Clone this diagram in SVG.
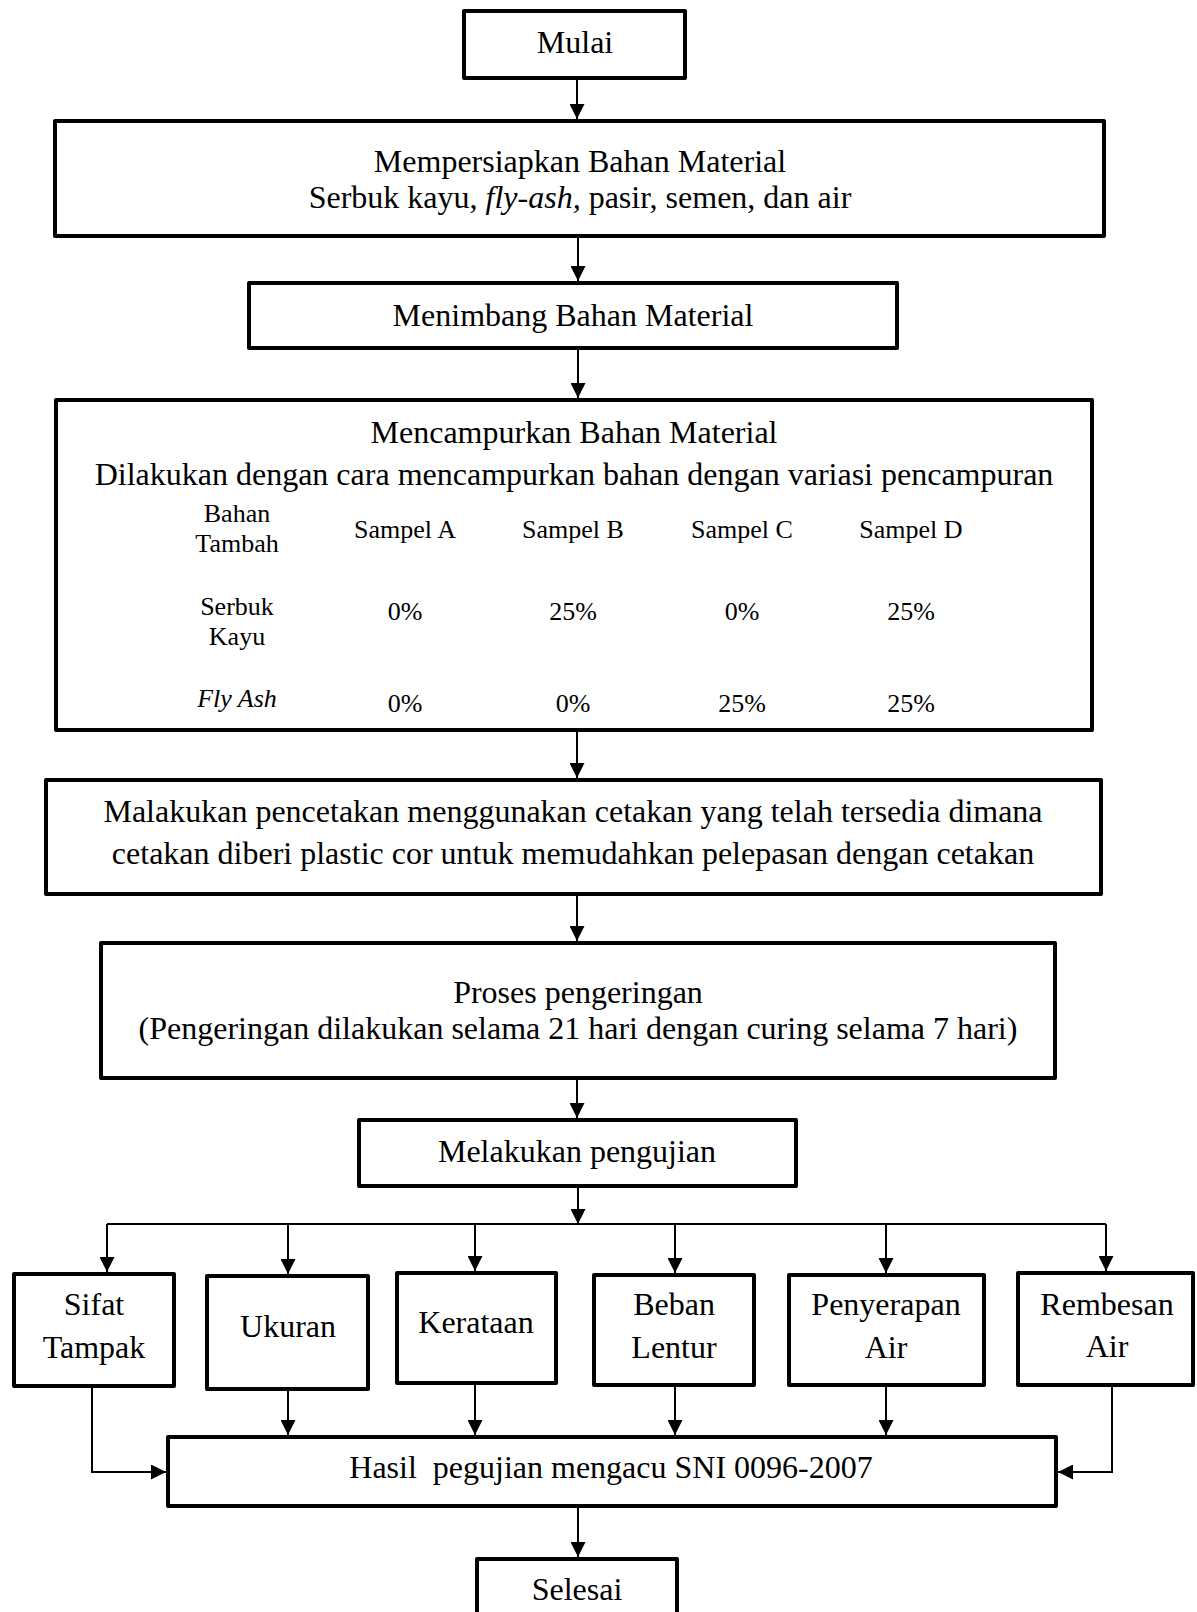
<svg xmlns="http://www.w3.org/2000/svg" width="1197" height="1612" viewBox="0 0 1197 1612">
<style>
.box{fill:#fff;stroke:#000;stroke-width:4;stroke-linejoin:round}
.t{font-family:"Liberation Serif","Times New Roman",serif;font-size:32px;fill:#000;text-anchor:middle}
.s{font-family:"Liberation Serif","Times New Roman",serif;font-size:26px;fill:#000;text-anchor:middle}
.c{fill:none;stroke:#000;stroke-width:2}
</style>
<defs>
<marker id="ah" markerUnits="userSpaceOnUse" markerWidth="15" markerHeight="15" refX="15" refY="7.5" orient="auto">
<path d="M0,0 L15,7.5 L0,15 z" fill="#000"/>
</marker>
</defs>
<rect width="1197" height="1612" fill="#fff"/>
<g id="connectors">
<path class="c" marker-end="url(#ah)" d="M577,80 V119"/>
<path class="c" marker-end="url(#ah)" d="M578,238 V281"/>
<path class="c" marker-end="url(#ah)" d="M578,350 V398"/>
<path class="c" marker-end="url(#ah)" d="M577,732 V778"/>
<path class="c" marker-end="url(#ah)" d="M577,896 V941"/>
<path class="c" marker-end="url(#ah)" d="M577,1080 V1118"/>
<path class="c" marker-end="url(#ah)" d="M578,1188 V1224"/>
<path class="c" d="M107,1224 H1106"/>
<path class="c" marker-end="url(#ah)" d="M107,1224 V1272"/>
<path class="c" marker-end="url(#ah)" d="M288,1224 V1274"/>
<path class="c" marker-end="url(#ah)" d="M475,1224 V1271"/>
<path class="c" marker-end="url(#ah)" d="M675,1224 V1273"/>
<path class="c" marker-end="url(#ah)" d="M886,1224 V1273"/>
<path class="c" marker-end="url(#ah)" d="M1106,1224 V1271"/>
<path class="c" marker-end="url(#ah)" d="M288,1391 V1435"/>
<path class="c" marker-end="url(#ah)" d="M475,1385 V1435"/>
<path class="c" marker-end="url(#ah)" d="M675,1387 V1435"/>
<path class="c" marker-end="url(#ah)" d="M886,1387 V1435"/>
<path class="c" marker-end="url(#ah)" d="M92,1388 V1472 H166"/>
<path class="c" marker-end="url(#ah)" d="M1112,1387 V1472 H1058"/>
<path class="c" marker-end="url(#ah)" d="M578,1508 V1557"/>
</g>
<g id="mulai">
<rect class="box" x="464" y="11" width="221" height="67"/>
<text class="t" x="575" y="53">Mulai</text>
</g>
<g id="mempersiapkan">
<rect class="box" x="55" y="121" width="1049" height="115"/>
<text class="t" x="580" y="172">Mempersiapkan Bahan Material</text>
<text class="t" x="580" y="208">Serbuk kayu, <tspan font-style="italic">fly-ash,</tspan> pasir, semen, dan air</text>
</g>
<g id="menimbang">
<rect class="box" x="249" y="283" width="648" height="65"/>
<text class="t" x="573" y="326">Menimbang Bahan Material</text>
</g>
<g id="mencampurkan">
<rect class="box" x="56" y="400" width="1036" height="330"/>
<text class="t" x="574" y="443">Mencampurkan Bahan Material</text>
<text class="t" x="574" y="485">Dilakukan dengan cara mencampurkan bahan dengan variasi pencampuran</text>
<text class="s" x="237" y="522">Bahan</text>
<text class="s" x="237" y="552">Tambah</text>
<text class="s" x="405" y="538">Sampel A</text>
<text class="s" x="573" y="538">Sampel B</text>
<text class="s" x="742" y="538">Sampel C</text>
<text class="s" x="911" y="538">Sampel D</text>
<text class="s" x="237" y="615">Serbuk</text>
<text class="s" x="237" y="645">Kayu</text>
<text class="s" x="405" y="620">0%</text>
<text class="s" x="573" y="620">25%</text>
<text class="s" x="742" y="620">0%</text>
<text class="s" x="911" y="620">25%</text>
<text class="s" x="237" y="707" font-style="italic">Fly Ash</text>
<text class="s" x="405" y="712">0%</text>
<text class="s" x="573" y="712">0%</text>
<text class="s" x="742" y="712">25%</text>
<text class="s" x="911" y="712">25%</text>
</g>
<g id="pencetakan">
<rect class="box" x="46" y="780" width="1055" height="114"/>
<text class="t" x="573" y="822">Malakukan pencetakan menggunakan cetakan yang telah tersedia dimana</text>
<text class="t" x="573" y="864">cetakan diberi plastic cor untuk memudahkan pelepasan dengan cetakan</text>
</g>
<g id="pengeringan">
<rect class="box" x="101" y="943" width="954" height="135"/>
<text class="t" x="578" y="1003">Proses pengeringan</text>
<text class="t" x="578" y="1039">(Pengeringan dilakukan selama 21 hari dengan curing selama 7 hari)</text>
</g>
<g id="pengujian">
<rect class="box" x="359" y="1120" width="437" height="66"/>
<text class="t" x="577" y="1162">Melakukan pengujian</text>
</g>
<g id="sifat">
<rect class="box" x="14" y="1274" width="160" height="112"/>
<text class="t" x="94" y="1315">Sifat</text>
<text class="t" x="94" y="1358">Tampak</text>
</g>
<g id="ukuran">
<rect class="box" x="207" y="1276" width="161" height="113"/>
<text class="t" x="288" y="1337">Ukuran</text>
</g>
<g id="kerataan">
<rect class="box" x="397" y="1273" width="159" height="110"/>
<text class="t" x="476" y="1333">Kerataan</text>
</g>
<g id="beban">
<rect class="box" x="594" y="1275" width="160" height="110"/>
<text class="t" x="674" y="1315">Beban</text>
<text class="t" x="674" y="1358">Lentur</text>
</g>
<g id="penyerapan">
<rect class="box" x="789" y="1275" width="195" height="110"/>
<text class="t" x="886" y="1315">Penyerapan</text>
<text class="t" x="886" y="1358">Air</text>
</g>
<g id="rembesan">
<rect class="box" x="1018" y="1273" width="175" height="112"/>
<text class="t" x="1107" y="1315">Rembesan</text>
<text class="t" x="1107" y="1357">Air</text>
</g>
<g id="hasil">
<rect class="box" x="168" y="1437" width="888" height="69"/>
<text class="t" x="611" y="1478" xml:space="preserve">Hasil  pegujian mengacu SNI 0096-2007</text>
</g>
<g id="selesai">
<rect class="box" x="477" y="1559" width="200" height="70"/>
<text class="t" x="577" y="1600">Selesai</text>
</g>
</svg>
